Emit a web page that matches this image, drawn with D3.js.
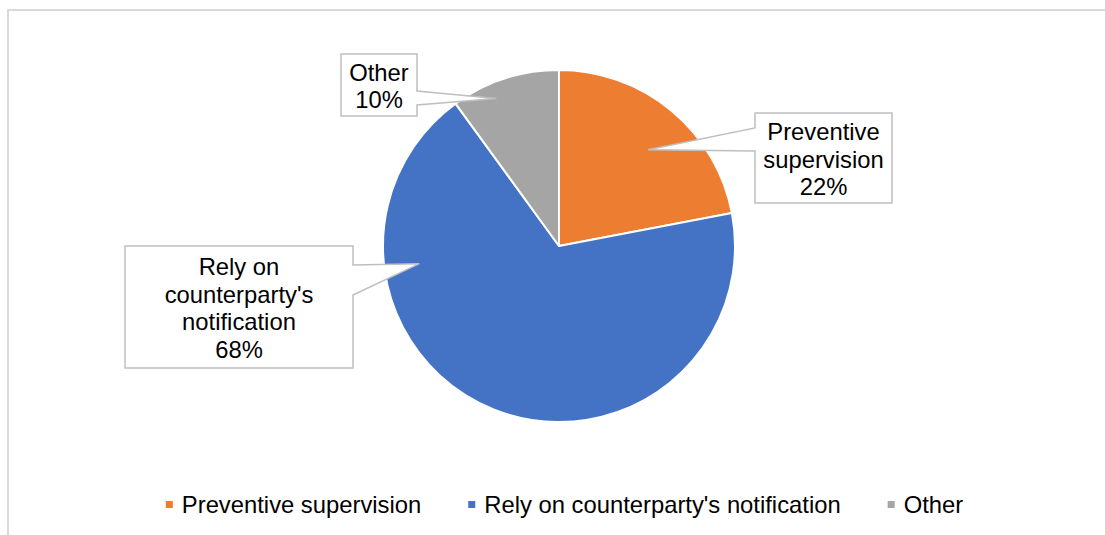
<!DOCTYPE html>
<html>
<head>
<meta charset="utf-8">
<script src="https://cdn.jsdelivr.net/npm/d3@7"></script>
<style>
  html, body { margin: 0; padding: 0; background: #fff; }
  svg { display: block; font-family: "Liberation Sans", Arial, sans-serif; }
</style>
</head>
<body>
<svg id="chart" width="1105" height="535"></svg>
<script>
// Survey shares of how counterparty events are monitored
const categories = ["Preventive supervision", "Rely on counterparty's notification", "Other"];
const shares = [22, 68, 10];
const colors = ["#ED7D31", "#4472C4", "#A5A5A5"];
const labelLines = [["Preventive", "supervision"], ["Rely on", "counterparty's", "notification"], ["Other"]];

// Callout layout: box rectangle, side the pointer leaves from, the span on that side,
// and where inside the slice it points (fraction along the slice angle, fraction of radius)
const callouts = [
  { box: [755, 113, 137, 90], side: "left",  span: [128, 151], at: [0.54, 0.745] },
  { box: [125, 246, 228, 122], side: "right", span: [265, 295], at: [0.75, 0.80] },
  { box: [341, 54, 76, 62],   side: "right", span: [91, 105], at: [0.36, 0.91] }
];

const svg = d3.select("#chart");
const W = 1105, H = 535;
const fontSize = 23.8, lineH = 27.6;

// chart area frame (runs past the visible window on the right and bottom)
svg.append("rect")
  .attr("x", 8).attr("y", 10).attr("width", W + 20).attr("height", H + 20)
  .attr("fill", "#fff").attr("stroke", "#d9d9d9").attr("stroke-width", 2);

const cx = 559, cy = 246, radius = 176;
const pie = d3.pie().sort(null).value(d => d)(shares);
const arc = d3.arc().innerRadius(0).outerRadius(radius);

const g = svg.append("g").attr("transform", `translate(${cx},${cy})`);
g.selectAll("path.slice")
  .data(pie)
  .join("path")
  .attr("class", "slice")
  .attr("d", arc)
  .attr("fill", (d, i) => colors[i])
  .attr("stroke", "#fff")
  .attr("stroke-width", 2)
  .attr("stroke-linejoin", "round");

// callout shapes with pointer wedge
function calloutPath(c, px, py) {
  const [x, y, w, h] = c.box;
  const [s0, s1] = c.span;
  const p = d3.path();
  p.moveTo(x, y);
  p.lineTo(x + w, y);
  if (c.side === "right") {
    p.lineTo(x + w, s0);
    p.lineTo(px, py);
    p.lineTo(x + w, s1);
  }
  p.lineTo(x + w, y + h);
  p.lineTo(x, y + h);
  if (c.side === "left") {
    p.lineTo(x, s1);
    p.lineTo(px, py);
    p.lineTo(x, s0);
  }
  p.closePath();
  return p.toString();
}

pie.forEach((d, i) => {
  const c = callouts[i];
  const ang = d.startAngle + (d.endAngle - d.startAngle) * c.at[0];
  const rr = radius * c.at[1];
  const px = cx + rr * Math.sin(ang);
  const py = cy - rr * Math.cos(ang);
  svg.append("path")
    .attr("d", calloutPath(c, px, py))
    .attr("fill", "#fff")
    .attr("stroke", "#bfbfbf")
    .attr("stroke-width", 1.5)
    .attr("stroke-linejoin", "miter");

  const lines = labelLines[i].concat([d3.format(".0f")(d.value) + "%"]);
  const [x, y, w, h] = c.box;
  const mid = y + h / 2;
  const first = mid - (lines.length - 1) * lineH / 2 + 9.5;
  const t = svg.append("text")
    .attr("text-anchor", "middle")
    .attr("font-size", fontSize)
    .attr("fill", "#000");
  lines.forEach((ln, k) => {
    t.append("tspan").attr("x", x + w / 2).attr("y", first + k * lineH).text(ln);
  });
});

// legend, centred along the bottom
const legend = svg.append("g");
const items = legend.selectAll("g.item")
  .data(categories)
  .join("g")
  .attr("class", "item");
items.append("rect")
  .attr("width", 7).attr("height", 7)
  .attr("y", 501)
  .attr("fill", (d, i) => colors[i]);
items.append("text")
  .attr("y", 513)
  .attr("font-size", fontSize)
  .attr("fill", "#000")
  .text(d => d);

const gap = 47, textOffset = 16;
const widths = [];
items.select("text").each(function () { widths.push(this.getComputedTextLength()); });
const total = widths.reduce((a, b) => a + b + textOffset, 0) + gap * (widths.length - 1);
let xpos = 564.5 - total / 2;
items.each(function (d, i) {
  const it = d3.select(this);
  it.select("rect").attr("x", xpos);
  it.select("text").attr("x", xpos + textOffset);
  xpos += textOffset + widths[i] + gap;
});
</script>
</body>
</html>
